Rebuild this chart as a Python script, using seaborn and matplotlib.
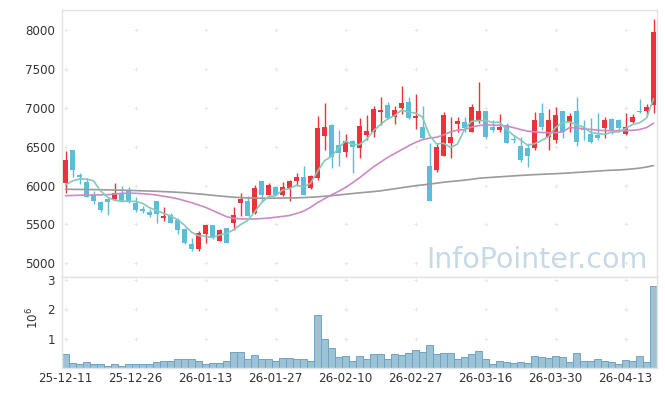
import numpy as np
import pandas as pd
import matplotlib
matplotlib.use("Agg")
import matplotlib.pyplot as plt
import seaborn as sns

# ---------------- data ----------------
tick_pos = [0, 10, 20, 30, 40, 50, 60, 70, 80]
tick_labels = ['25-12-11', '25-12-26', '26-01-13', '26-01-27', '26-02-10',
               '26-02-27', '26-03-16', '26-03-30', '26-04-13']

open_ = [6029, 6457, 6130, 6050, 5879, 5789, 5827, 5827, 5900, 5934,
         5771, 5703, 5664, 5801, 5583, 5621, 5557, 5441, 5245, 5180,
         5373, 5489, 5291, 5450, 5515, 5780, 5801, 5643, 6059, 5879,
         5978, 5879, 5964, 6063, 6114, 5964, 6093, 6637, 6779, 6521,
         6436, 6573, 6487, 6650, 6693, 6950, 7032, 6878, 7001, 7070,
         6873, 6753, 6256, 6200, 6384, 6551, 6796, 6813, 6693, 6843,
         6959, 6757, 6714, 6779, 6593, 6509, 6487, 6487, 6929, 6620,
         6590, 6959, 6821, 6959, 6730, 6663, 6650, 6744, 6856, 6843,
         6663, 6813, 6955, 6959, 7036]
high = [6448, 6460, 6165, 6101, 5934, 5795, 5840, 6033, 5994, 5978,
        5849, 5737, 5694, 5805, 5720, 5643, 5580, 5454, 5322, 5416,
        5489, 5495, 5437, 5455, 5720, 5900, 5860, 6007, 6062, 6037,
        5985, 6050, 6065, 6165, 6251, 6130, 6894, 7057, 6785, 6714,
        6659, 6590, 6865, 6907, 7023, 7143, 7079, 7023, 7284, 7143,
        7173, 7023, 6543, 6534, 6950, 6878, 6886, 6878, 7045, 7336,
        6962, 6843, 6916, 6810, 6650, 6620, 6543, 6950, 7057, 6980,
        7014, 6962, 6937, 7143, 6843, 6872, 6929, 6878, 6870, 6850,
        6929, 6920, 7109, 7045, 8137]
low = [5908, 6114, 6016, 5850, 5759, 5656, 5621, 5818, 5790, 5771,
       5664, 5643, 5592, 5523, 5540, 5515, 5373, 5250, 5163, 5163,
       5258, 5309, 5285, 5258, 5429, 5609, 5605, 5640, 5793, 5875,
       5875, 5860, 5801, 5990, 5875, 5955, 6071, 6457, 6222, 6250,
       6371, 6165, 6350, 6586, 6620, 6779, 6860, 6787, 6920, 6860,
       6723, 6600, 5800, 6178, 6380, 6359, 6693, 6693, 6690, 6800,
       6600, 6684, 6693, 6551, 6543, 6307, 6235, 6457, 6714, 6457,
       6551, 6607, 6693, 6509, 6586, 6543, 6586, 6607, 6663, 6693,
       6655, 6810, 6930, 6907, 6929]
close = [6329, 6200, 6115, 5857, 5805, 5686, 5793, 5908, 5805, 5793,
         5686, 5669, 5621, 5630, 5609, 5523, 5429, 5258, 5180, 5386,
         5489, 5343, 5429, 5266, 5621, 5827, 5609, 5964, 5879, 6007,
         5879, 5978, 6059, 6106, 5879, 6123, 6736, 6757, 6371, 6423,
         6573, 6500, 6766, 6701, 6980, 6971, 6865, 6971, 7057, 6865,
         6899, 6607, 5805, 6500, 6907, 6628, 6830, 6744, 7014, 6959,
         6628, 6714, 6757, 6551, 6580, 6329, 6380, 6843, 6757, 6843,
         6907, 6693, 6894, 6564, 6712, 6564, 6607, 6843, 6701, 6744,
         6757, 6886, 6940, 7006, 7979]
volume_m = [0.46, 0.18, 0.14, 0.21, 0.14, 0.12, 0.085, 0.12, 0.085, 0.12,
            0.14, 0.14, 0.14, 0.21, 0.25, 0.25, 0.29, 0.29, 0.29, 0.25,
            0.15, 0.18, 0.18, 0.25, 0.56, 0.53, 0.32, 0.45, 0.29, 0.32,
            0.25, 0.35, 0.35, 0.32, 0.32, 0.25, 1.81, 1.00, 0.69, 0.38,
            0.41, 0.24, 0.41, 0.31, 0.48, 0.48, 0.31, 0.48, 0.45, 0.51,
            0.62, 0.53, 0.79, 0.48, 0.51, 0.51, 0.31, 0.38, 0.48, 0.58,
            0.31, 0.14, 0.24, 0.21, 0.18, 0.21, 0.18, 0.41, 0.38, 0.35,
            0.41, 0.38, 0.21, 0.51, 0.24, 0.24, 0.31, 0.24, 0.21, 0.14,
            0.28, 0.24, 0.41, 0.21, 2.80]
ma5 = [6007, 6059, 6084, 6084, 6061, 5933, 5851, 5810, 5799, 5797,
       5797, 5772, 5715, 5680, 5643, 5610, 5562, 5490, 5400, 5355,
       5348, 5331, 5365, 5383, 5430, 5497, 5550, 5657, 5780, 5857,
       5868, 5941, 5960, 6006, 5980, 6029, 6181, 6320, 6373, 6482,
       6572, 6525, 6527, 6593, 6704, 6784, 6857, 6898, 6969, 6946,
       6931, 6880, 6647, 6535, 6544, 6489, 6534, 6722, 6825, 6835,
       6835, 6812, 6814, 6722, 6646, 6586, 6519, 6537, 6578, 6630,
       6746, 6809, 6819, 6780, 6754, 6685, 6668, 6658, 6685, 6692,
       6730, 6786, 6806, 6867, 7114]
ma20 = [5870, 5872, 5875, 5877, 5879, 5880, 5882, 5890, 5900, 5902,
        5900, 5895, 5888, 5878, 5862, 5849, 5830, 5805, 5780, 5750,
        5720, 5680, 5640, 5600, 5578, 5572, 5570, 5570, 5575, 5582,
        5592, 5603, 5615, 5640, 5670, 5720, 5780, 5830, 5880, 5925,
        5975, 6035, 6100, 6170, 6240, 6300, 6360, 6410, 6460, 6510,
        6555, 6590, 6610, 6620, 6650, 6690, 6712, 6720, 6750, 6770,
        6780, 6778, 6775, 6765, 6745, 6720, 6700, 6690, 6682, 6680,
        6680, 6690, 6745, 6740, 6730, 6722, 6712, 6706, 6705, 6705,
        6706, 6710, 6720, 6745, 6800]
ma_long = [5952, 5951, 5950, 5949, 5948, 5946, 5944, 5942, 5940, 5938,
           5935, 5932, 5929, 5926, 5922, 5918, 5913, 5908, 5900, 5892,
           5884, 5875, 5866, 5858, 5850, 5845, 5841, 5838, 5837, 5837,
           5838, 5839, 5840, 5842, 5845, 5849, 5855, 5862, 5870, 5879,
           5888, 5897, 5906, 5914, 5922, 5932, 5945, 5958, 5972, 5985,
           5998, 6008, 6018, 6030, 6042, 6052, 6060, 6070, 6080, 6093,
           6100, 6106, 6112, 6118, 6124, 6130, 6135, 6140, 6144, 6148,
           6152, 6157, 6162, 6168, 6174, 6180, 6186, 6192, 6197, 6200,
           6206, 6214, 6224, 6238, 6256]

price_ticks = [5000, 5500, 6000, 6500, 7000, 7500, 8000]
vol_ticks = [1, 2, 3]

# ---------------- styling ----------------
sns.set_theme(style="white")
plt.rcParams['font.family'] = ['DejaVu Sans']

UP = '#ec323b'
DOWN = '#5fbcd8'
SPINE = '#e3e3e3'
TXT = '#333333'

n = len(close)
idx = np.arange(n)
df = pd.DataFrame({'i': idx, 'open': open_, 'high': high, 'low': low,
                   'close': close, 'vol': volume_m,
                   'ma5': ma5, 'ma20': ma20, 'malong': ma_long})
df['up'] = df['close'] >= df['open']

W, H = 665, 396
fig = plt.figure(figsize=(W / 100, H / 100), dpi=100)
left, right = 62, 657
ax1 = fig.add_axes([left / W, 1 - 277 / H, (right - left) / W, (277 - 10) / H])
ax2 = fig.add_axes([left / W, 1 - 368 / H, (right - left) / W, (368 - 277) / H])

for ax in (ax1, ax2):
    ax.set_facecolor('white')
    for s in ax.spines.values():
        s.set_color(SPINE)
        s.set_linewidth(1.0)
    ax.tick_params(length=0, colors=TXT, labelsize=8.6, pad=5)
    ax.set_xlim(-0.5, n - 0.5)

# grid "+" marks
gx, gy = np.meshgrid(tick_pos, price_ticks)
ax1.scatter(gx.ravel(), gy.ravel(), marker='+', s=10, color='#e8e8e8',
            linewidths=0.7, zorder=0)
gx2, gy2 = np.meshgrid(tick_pos, vol_ticks)
ax2.scatter(gx2.ravel(), gy2.ravel(), marker='+', s=10, color='#e8e8e8',
            linewidths=0.7, zorder=0)

# watermark
fig.text(648 / W, 1 - 268 / H, 'InfoPointer.com', ha='right', va='baseline',
         fontsize=20.5, color='#c6dae5', zorder=0)

# candles
colors = np.where(df['up'], UP, DOWN)
ax1.vlines(df['i'], df['low'], df['high'], colors=colors, linewidth=1.0, zorder=2)
body_bottom = np.minimum(df['open'], df['close'])
body_h = np.maximum(np.abs(df['close'] - df['open']), 14)
ax1.bar(df['i'], body_h, bottom=body_bottom, width=0.66, color=colors,
        linewidth=0, zorder=3)

# moving averages
sns.lineplot(data=df, x='i', y='malong', ax=ax1, color='#9a9a9a', linewidth=1.2, zorder=4)
sns.lineplot(data=df, x='i', y='ma20', ax=ax1, color='#cc8ac6', linewidth=1.2, zorder=4)
sns.lineplot(data=df, x='i', y='ma5', ax=ax1, color='#86c8ba', linewidth=1.2, zorder=4)

ax1.set_ylim(4824, 8257)
ax1.set_yticks(price_ticks)
ax1.set_yticklabels([str(t) for t in price_ticks])
ax1.set_xticks([])
ax1.set_xlabel('')
ax1.set_ylabel('')
ax1.set_xlim(-0.5, n - 0.5)

# volume
sns.barplot(data=df, x='i', y='vol', ax=ax2, native_scale=True, width=1.0,
            color='#9cc2d6', saturation=1, edgecolor='#6fa3c6', linewidth=0.7,
            zorder=2)
ax2.set_xlim(-0.5, n - 0.5)
ax2.set_ylim(0, 3.1)
ax2.set_yticks(vol_ticks)
ax2.set_yticklabels([str(t) for t in vol_ticks])
ax2.set_xticks(tick_pos)
ax2.set_xticklabels(tick_labels)
ax2.tick_params(axis='x', pad=3)
ax2.set_xlabel('')
ax2.set_ylabel('')
fig.text(33 / W, 1 - 318 / H, '$10^6$', rotation=90, ha='center', va='center',
         fontsize=8.6, color=TXT)

fig.savefig('out.png', dpi=100, facecolor='white')
